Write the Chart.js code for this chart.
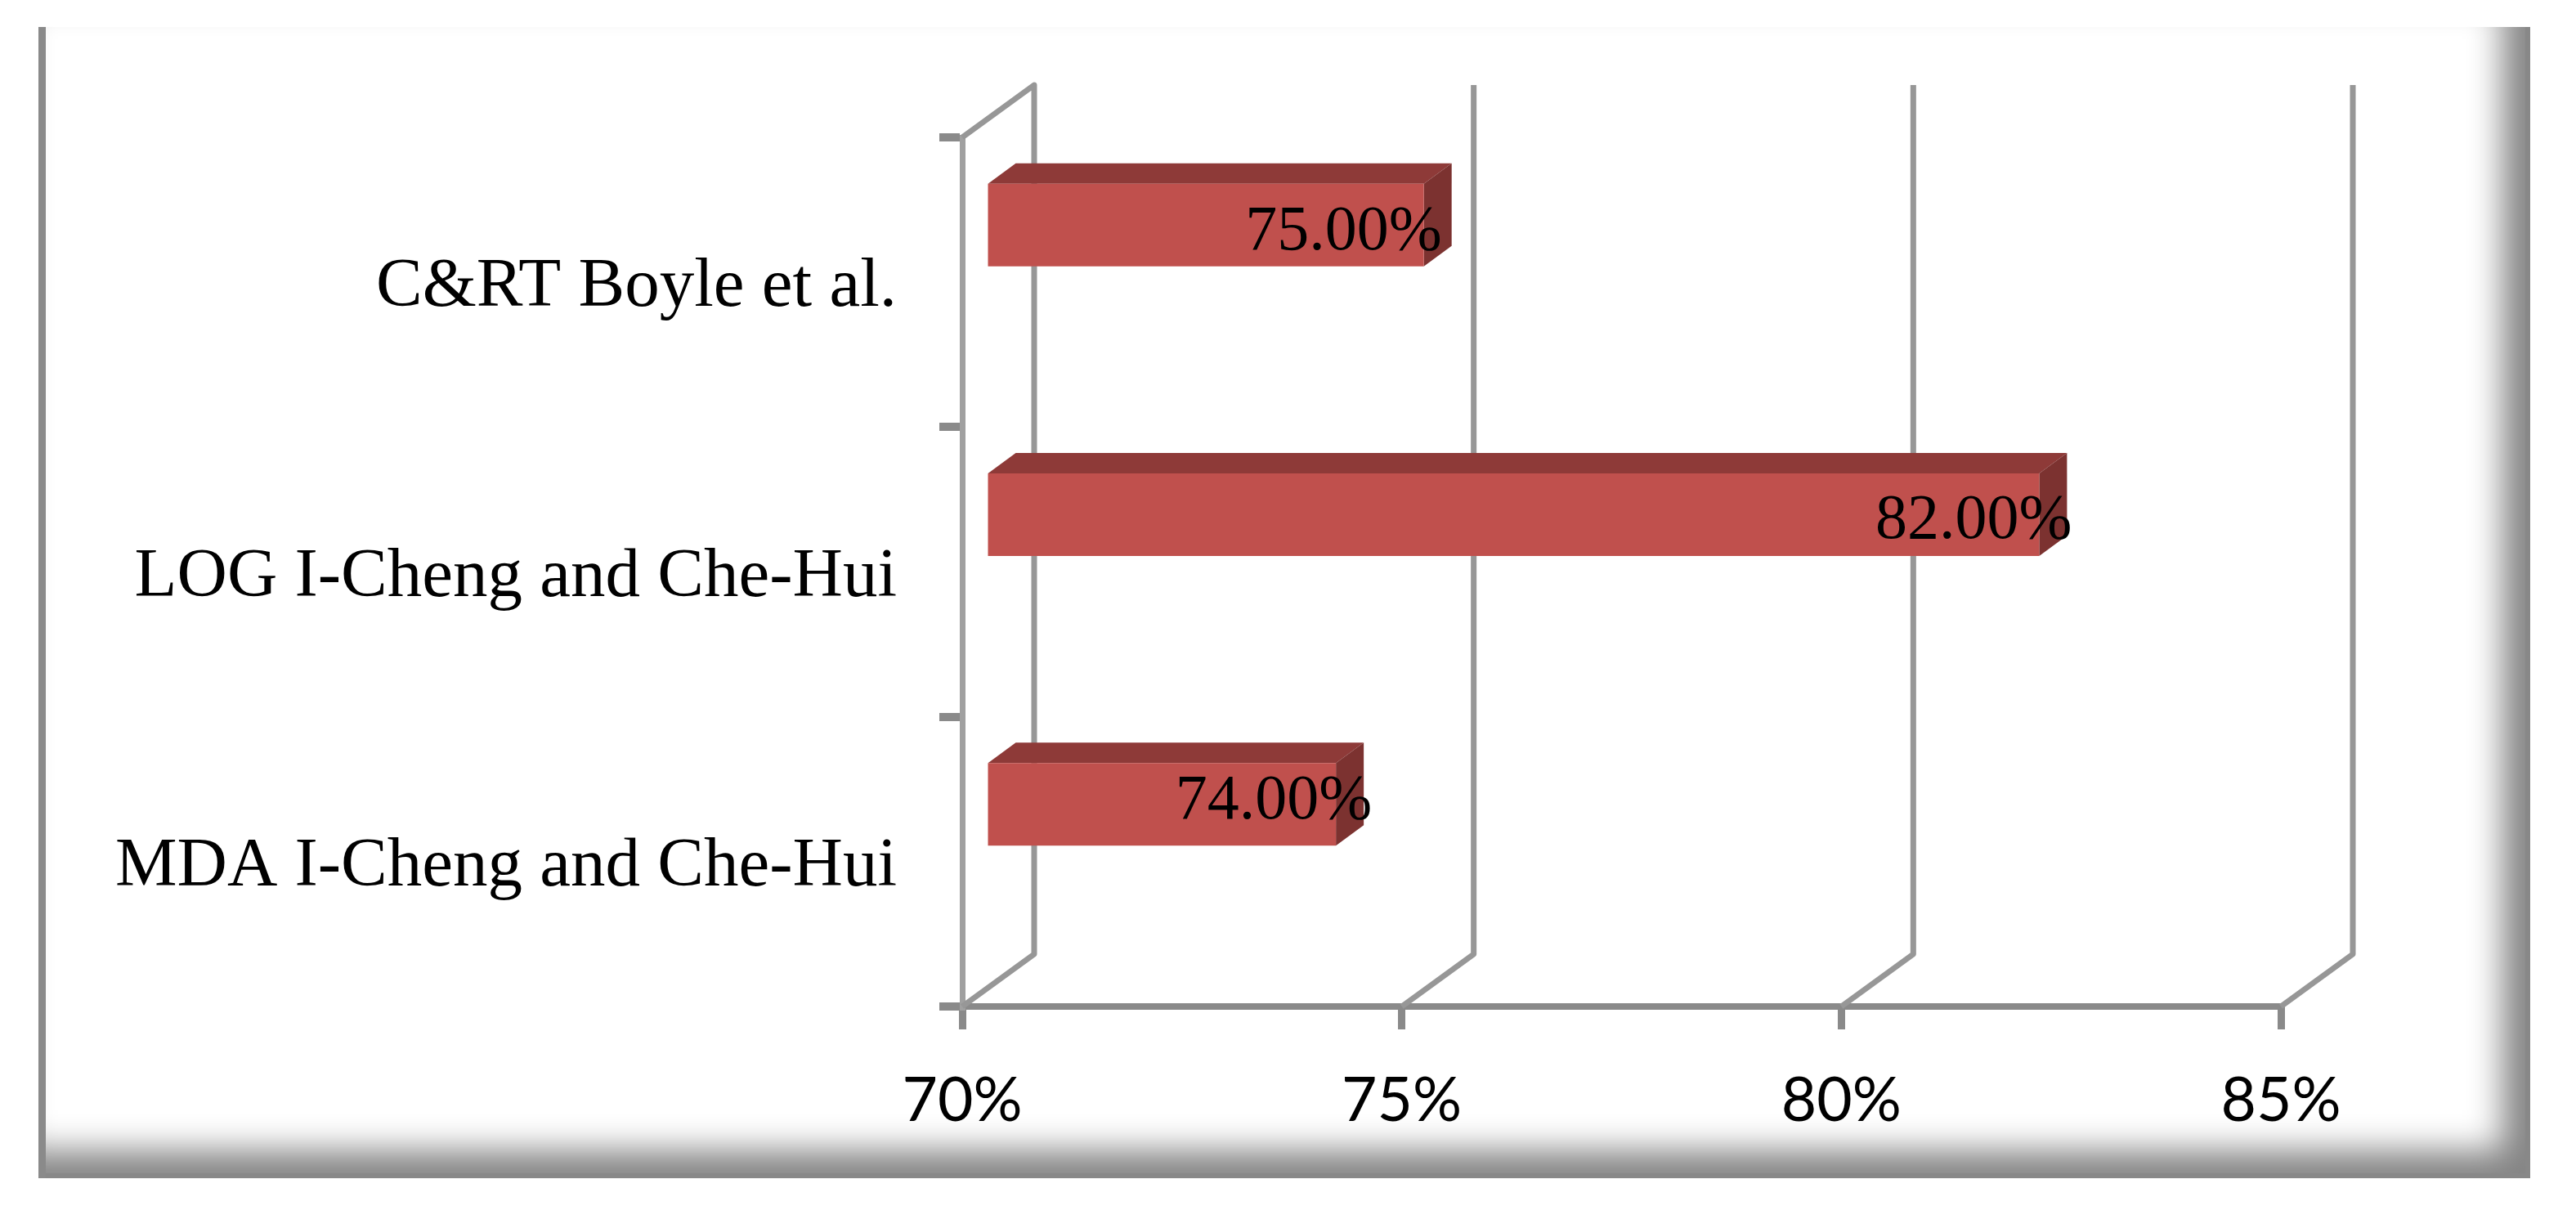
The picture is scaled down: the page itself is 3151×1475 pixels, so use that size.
<!DOCTYPE html>
<html lang="en">
<head>
    <meta charset="UTF-8">
    <title>Accuracy comparison</title>
    <script src="https://cdn.jsdelivr.net/npm/chart.js"></script>
    <style>
        html, body { margin: 0; padding: 0; background: #fff; }
        #page { position: relative; width: 3151px; height: 1475px; overflow: hidden; }
        /* grey frame with the soft inner shadow on the right and bottom */
        #frame {
            position: absolute; left: 47px; top: 33px; width: 3048px; height: 1408px;
            box-sizing: border-box; border-left: 9px solid #8a8a8a;
            box-shadow: inset -6px -6px 0 #888, inset -34px -34px 40px #858585;
        }
        canvas { position: absolute; left: 0; top: 0; }
    </style>
</head>
<body>
    <div id="page">
        <div id="frame"></div>
        <canvas id="accuracyChart" width="3151" height="1475"></canvas>
    </div>

    <script>
        const categories = ['C&RT Boyle et al.', 'LOG I-Cheng and Che-Hui', 'MDA I-Cheng and Che-Hui'];
        const accuracy = [75, 82, 74];
        const axisMin = 70;
        const axisMax = 85;
        const axisStep = 5;

        // 3D look: how far the back wall and the bars are pushed from the front plane
        const wallDx = 88, wallDy = -64;
        const barDx = 27, barDy = -70;
        const depthDx = 34, depthDy = -25;
        // the labels in the original do not sit at a constant place on the bar end
        const labelShiftX = [22, 40, 44];
        const labelShiftY = [9, 8, -3];

        // Back wall lines and floor slants, behind the bars
        const wallPlugin = {
            id: 'wallPlugin',
            beforeDatasetsDraw(chart) {
                const { ctx, chartArea, scales } = chart;
                ctx.save();
                ctx.strokeStyle = '#979797';
                ctx.lineWidth = 7;
                ctx.lineJoin = 'round';
                scales.x.ticks.forEach(tick => {
                    const x = scales.x.getPixelForValue(tick.value);
                    ctx.beginPath();
                    ctx.moveTo(x, chartArea.bottom);
                    ctx.lineTo(x + wallDx, chartArea.bottom + wallDy);
                    ctx.lineTo(x + wallDx, chartArea.top + wallDy);
                    // only the first wall line joins the top of the front axis
                    if (tick.value === axisMin) {
                        ctx.lineTo(x, chartArea.top);
                    }
                    ctx.stroke();
                });
                ctx.restore();
            }
        };

        // Bars are moved onto the middle of the floor and get a top and a side face
        const boxPlugin = {
            id: 'boxPlugin',
            beforeDatasetDraw(chart) {
                const { ctx } = chart;
                ctx.save();
                ctx.translate(barDx, barDy);
                chart.getDatasetMeta(0).data.forEach(bar => {
                    const top = bar.y - bar.height / 2;
                    const bottom = bar.y + bar.height / 2;
                    ctx.fillStyle = '#8e3a38';
                    ctx.beginPath();
                    ctx.moveTo(bar.base, top);
                    ctx.lineTo(bar.base + depthDx, top + depthDy);
                    ctx.lineTo(bar.x + depthDx, top + depthDy);
                    ctx.lineTo(bar.x, top);
                    ctx.closePath();
                    ctx.fill();
                    ctx.fillStyle = '#7c3230';
                    ctx.beginPath();
                    ctx.moveTo(bar.x, top);
                    ctx.lineTo(bar.x + depthDx, top + depthDy);
                    ctx.lineTo(bar.x + depthDx, bottom + depthDy);
                    ctx.lineTo(bar.x, bottom);
                    ctx.closePath();
                    ctx.fill();
                });
            },
            afterDatasetDraw(chart) {
                chart.ctx.restore();
            },
            afterDatasetsDraw(chart) {
                const { ctx } = chart;
                ctx.save();
                ctx.font = '78px "Liberation Serif"';
                ctx.fillStyle = '#000';
                ctx.textAlign = 'right';
                ctx.textBaseline = 'middle';
                chart.getDatasetMeta(0).data.forEach((bar, i) => {
                    const text = accuracy[i].toFixed(2) + '%';
                    ctx.fillText(text, bar.x + barDx + labelShiftX[i], bar.y + barDy + labelShiftY[i]);
                });
                ctx.restore();
            }
        };

        new Chart(document.getElementById('accuracyChart'), {
            type: 'bar',
            data: {
                labels: categories,
                datasets: [{
                    data: accuracy,
                    base: axisMin,
                    backgroundColor: '#c0504d',
                    borderWidth: 0,
                    barPercentage: 1,
                    categoryPercentage: 0.285,
                    clip: false
                }]
            },
            options: {
                indexAxis: 'y',
                responsive: false,
                animation: false,
                // left is taken by the category labels, so it is set from the right side of the canvas
                layout: { padding: { top: 168, right: 361, bottom: 6, left: 0 } },
                plugins: {
                    legend: { display: false },
                    tooltip: { enabled: false }
                },
                scales: {
                    x: {
                        min: axisMin,
                        max: axisMax,
                        afterFit(scale) { scale.height = 238; },
                        ticks: {
                            stepSize: axisStep,
                            padding: 43,
                            maxRotation: 0,
                            color: '#000',
                            font: { family: 'Lato', size: 75 },
                            callback: value => value + '%'
                        },
                        grid: {
                            drawOnChartArea: false,
                            color: '#8a8a8a',
                            lineWidth: 9,
                            tickLength: 28
                        },
                        border: { color: '#8a8a8a', width: 8 }
                    },
                    y: {
                        afterFit(scale) { scale.width = 1177; },
                        ticks: {
                            padding: 52,
                            labelOffset: 7,
                            color: '#000',
                            font: { family: 'Liberation Serif', size: 85 }
                        },
                        grid: {
                            drawOnChartArea: false,
                            color: '#8a8a8a',
                            lineWidth: 10,
                            tickLength: 28
                        },
                        border: { color: '#a0a0a0', width: 7 }
                    }
                }
            },
            plugins: [wallPlugin, boxPlugin]
        });
    </script>
</body>
</html>
